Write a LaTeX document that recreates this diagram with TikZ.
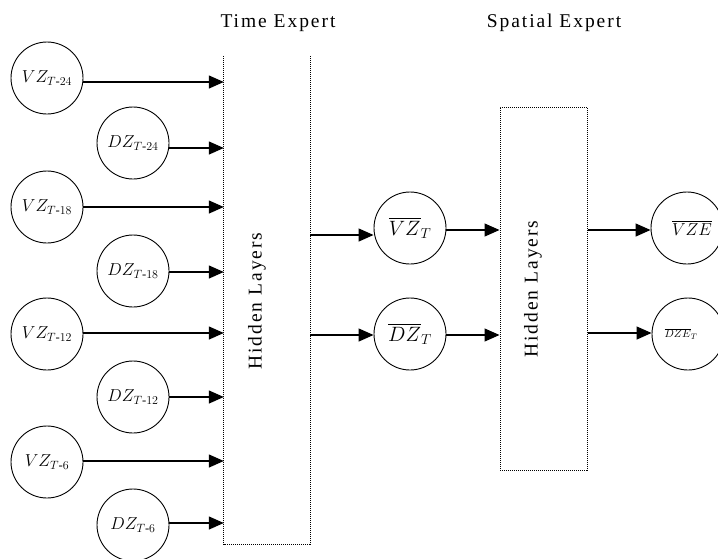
\documentclass[tikz,border=0pt]{standalone}
\usepackage{amsmath}
\usepackage{fontspec}
\setmainfont{Liberation Serif}
\newfontfamily\spacedfont[LetterSpace=10]{Liberation Serif}
\usetikzlibrary{arrows.meta}
\begin{document}
\begin{tikzpicture}[x=1pt,y=-1pt,
  unit/.style={circle,draw,line width=0.9pt,minimum size=72pt,inner sep=0pt,font=\fontsize{18}{22}\selectfont},
  arr/.style={line width=1.3pt,-{Triangle[length=15pt,width=13pt]}},
  hbox/.style={rectangle,minimum width=86pt,inner sep=0pt},
  dots/.style={line width=1pt,dash pattern=on 1pt off 1pt},
  title/.style={font=\spacedfont\fontsize{19.5}{23}\selectfont}
]
\useasboundingbox (0,0) rectangle (718,558);
\clip (0,0) rectangle (718,558);

% titles
\node[title] (ttime) at (278,23) {Time Expert};
\node[title] (tspat) at (554,23) {Spatial Expert};

% input units
\node[unit] (vz24) at (47,78)  {$VZ_{T\text{-}24}$};
\node[unit] (dz24) at (133,143) {$DZ_{T\text{-}24}$};
\node[unit] (vz18) at (47,207) {$VZ_{T\text{-}18}$};
\node[unit] (dz18) at (133,271) {$DZ_{T\text{-}18}$};
\node[unit] (vz12) at (47,334) {$VZ_{T\text{-}12}$};
\node[unit] (dz12) at (133,397) {$DZ_{T\text{-}12}$};
\node[unit] (vz6)  at (47,462) {$VZ_{T\text{-}6}$};
\node[unit] (dz6)  at (133,525) {$DZ_{T\text{-}6}$};

% time expert box (open at the top)
\node[hbox,minimum height=488pt] (tbox) at (267,300) {};
\draw[dots] (tbox.north west) -- (tbox.south west) -- (tbox.south east) -- (tbox.north east);
\node[title,rotate=90] (tlab) at (257,301) {Hidden Layers};

% intermediate units
\node[unit,font=\fontsize{20}{24}\selectfont] (vzt) at (410,228) {$\overline{VZ}_T$};
\node[unit,font=\fontsize{20}{24}\selectfont] (dzt) at (410,334) {$\overline{DZ}_T$};

% spatial expert box
\node[hbox,draw,dots,minimum width=87pt,minimum height=363pt] (sbox) at (543.5,288.5) {};
\node[title,rotate=90] (slab) at (533,289) {Hidden Layers};

% output units
\node[unit,font=\fontsize{19}{23}\selectfont] (vze) at (687,228) {\hspace*{10pt}$\overline{VZE}$};
\node[unit,font=\fontsize{11}{13}\selectfont] (dze) at (688,334) {$\overline{DZE}_T$\hspace*{14pt}};

% connectors
\foreach \n/\d in {vz24/4, dz24/5, vz18/0, dz18/1, vz12/-1, dz12/0, vz6/-1, dz6/-2}
  \draw[arr] (\n.east) ++(0,\d) coordinate (p) -- (p -| tbox.west);

\draw[arr] (tbox.east |- vzt) ++(0,7) coordinate (p) -- (p -| vzt.west);
\draw[arr] (tbox.east |- dzt) ++(0,1) coordinate (p) -- (p -| dzt.west);
\draw[arr] (vzt.east) ++(0,2) coordinate (p) -- (p -| sbox.west);
\draw[arr] (dzt.east) ++(0,1) coordinate (p) -- (p -| sbox.west);
\draw[arr] (sbox.east |- vze) ++(0,2) coordinate (p) -- (p -| vze.west);
\draw[arr] (sbox.east |- dze) ++(0,-1) coordinate (p) -- (p -| dze.west);
\end{tikzpicture}
\end{document}
